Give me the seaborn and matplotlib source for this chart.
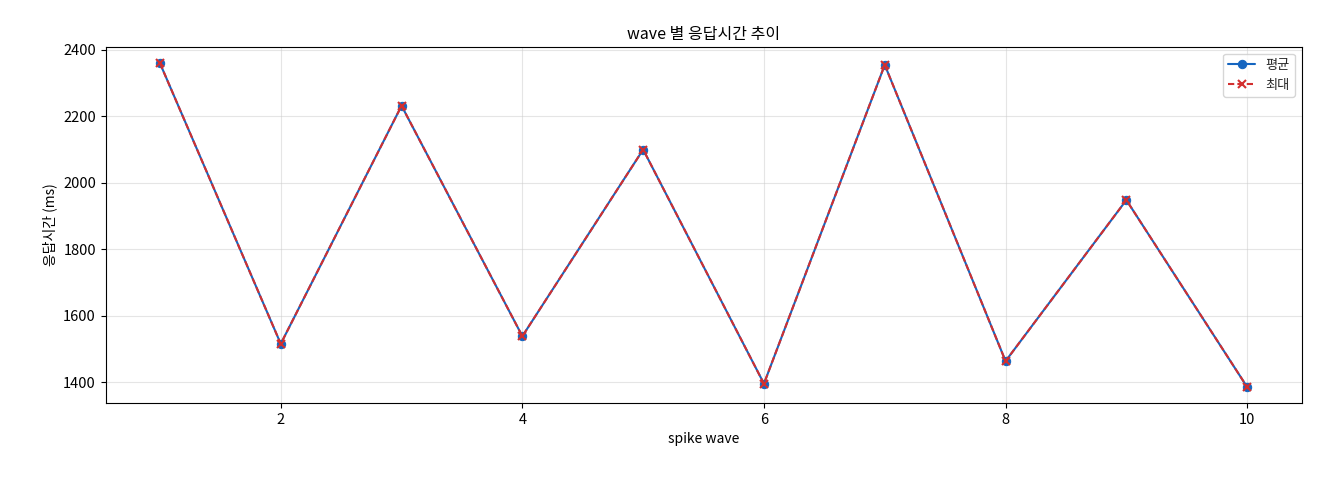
import matplotlib
matplotlib.use("Agg")
import matplotlib.pyplot as plt
import seaborn as sns
import pandas as pd

waves = [1, 2, 3, 4, 5, 6, 7, 8, 9, 10]
avg_ms = [2360, 1515, 2232, 1538, 2100, 1395, 2355, 1463, 1948, 1385]
max_ms = [2360, 1515, 2232, 1538, 2100, 1395, 2355, 1463, 1948, 1385]

sns.set_style("ticks")
plt.rcParams['font.family'] = ['Noto Sans CJK KR', 'DejaVu Sans']
plt.rcParams['axes.unicode_minus'] = False

df = pd.DataFrame({"wave": waves, "avg": avg_ms, "max": max_ms})
fig, ax = plt.subplots(figsize=(13.2, 4.8), dpi=100)
sns.lineplot(data=df, x="wave", y="avg", ax=ax, color="#1565c0", marker="o",
             markersize=6, markeredgecolor="#1565c0", linewidth=1.5, label="평균")
sns.lineplot(data=df, x="wave", y="max", ax=ax, color="#d32f2f", marker="x",
             markersize=6, markeredgecolor="#d32f2f", markeredgewidth=1.5,
             dashes=(3, 1.5), linewidth=1.5, label="최대")
ax.lines[1].set_dashes((3, 1.5))
ax.grid(True, alpha=0.5, color="#cccccc")
ax.tick_params(colors="black", labelsize=10.5)
for s in ax.spines.values():
    s.set_color("black")
ax.set_title("wave 별 응답시간 추이", fontsize=11.5, color="black")
ax.set_xlabel("spike wave", fontsize=10, color="black")
ax.set_ylabel("응답시간 (ms)", fontsize=10, color="black")
leg = ax.legend(loc="upper right", fontsize=9.5)
for l in leg.get_lines():
    pass
fig.subplots_adjust(left=0.08, right=0.986, top=0.902, bottom=0.16)
fig.savefig("out.png", dpi=100)
